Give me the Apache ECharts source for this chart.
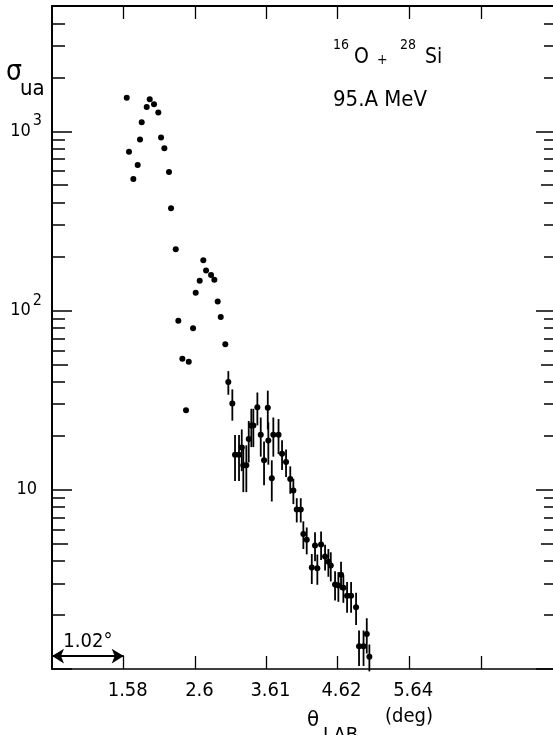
<!DOCTYPE html>
<html>
<head>
<meta charset="utf-8">
<script src="https://cdn.jsdelivr.net/npm/echarts@6.0.0/dist/echarts.min.js"></script>
<style>
html,body{margin:0;padding:0;background:#fff;}
#chart{width:553px;height:735px;}
</style>
</head>
<body>
<div id="chart"></div>
<script>
// ---- data (theta_LAB in deg, sigma in arbitrary units) ----
var xNoErr = [1.623,1.655,1.717,1.779,1.812,1.836,1.907,1.950,2.011,2.072,2.111,2.158,2.224,2.253,2.320,2.357,2.414,2.466,2.505,2.566,2.604,2.661,2.712,2.751,2.822,2.869,2.917,2.960,3.025];
var yNoErr = [1536,770,541,648,899,1123,1368,1510,1416,1273,922,803,592,372,219.5,87.6,53.9,27.8,51.8,79.7,125.6,146.6,190.5,167.4,157.8,148.5,112.3,91.9,64.9];

var xErr = [3.068,3.125,3.163,3.220,3.259,3.281,3.324,3.358,3.395,3.424,3.481,3.529,3.576,3.629,3.637,3.686,3.708,3.782,3.832,3.889,3.949,3.993,4.041,4.098,4.135,4.183,4.255,4.301,4.334,4.387,4.444,4.491,4.525,4.586,4.633,4.671,4.704,4.757,4.814,4.885,4.927,4.991,5.037,5.074];
var yErr = [39.9,30.3,15.7,15.7,17.2,13.7,13.7,19.2,22.8,22.8,28.9,20.3,14.6,28.7,18.8,11.6,20.3,20.3,15.9,14.3,11.5,9.92,7.77,7.77,5.67,5.26,3.68,4.89,3.65,4.95,4.24,3.97,3.78,2.96,2.92,3.36,2.84,2.56,2.56,2.21,1.34,1.34,1.57,1.17];
var eErr = [6,6,4.5,4.5,4.5,4,4,5,5.5,5.5,6,5,4,7,5,3,5,4.5,3,2.5,2,1.6,1.2,1.2,1.0,0.9,0.7,0.9,0.7,0.9,0.7,0.7,0.7,0.55,0.55,0.6,0.5,0.5,0.5,0.45,0.3,0.3,0.35,0.2];

// ---- axes ----
var xMin = 0.56, xMax = 7.70;
var xTickValues = [1.58, 2.60, 3.61, 4.62, 5.64, 6.66];
var xTickLabels = ['1.58', '2.6', '3.61', '4.62', '5.64', ''];
var yMin = 1, yMax = 5000;
var yMidTicks = [5, 50, 500];
var yMinorTicks = [2,3,4,6,7,8,9,20,30,40,60,70,80,90,200,300,400,600,700,800,900,2000,3000,4000];
var arrowY = 1.18;

var FONT = "'Liberation Sans Narrow','DejaVu Sans Condensed','Liberation Sans',sans-serif";

function pairs(xs, ys){ var o=[]; for(var i=0;i<xs.length;i++) o.push([xs[i], ys[i]]); return o; }
function triples(xs, ys, es){ var o=[]; for(var i=0;i<xs.length;i++) o.push([xs[i], ys[i], es[i]]); return o; }

function yAxisBase(pos, tickLen, customVals, showLabel){
  var ax = {
    type:'log', logBase:10, min:yMin, max:yMax, position:pos,
    axisLine:{show:true, lineStyle:{color:'#000', width:1.5}},
    axisTick:{show:true, inside:true, length:tickLen, lineStyle:{color:'#000', width:1.5}},
    axisLabel:{show:false},
    splitLine:{show:false}, minorTick:{show:false}, minorSplitLine:{show:false}
  };
  if (customVals) ax.axisTick.customValues = customVals;
  if (showLabel) {
    ax.axisLabel = {
      show:true, margin:10, color:'#000', fontFamily:FONT, fontSize:18,
      formatter:function(v){
        var r = Math.round(v);
        if (r === 1000) return '{b|10}{s|3}';
        if (r === 100) return '{b|10}{s|2}';
        if (r === 10) return '{p|10}';
        return '';
      },
      rich:{
        b:{fontFamily:FONT, fontSize:18, color:'#000'},
        p:{fontFamily:FONT, fontSize:18, color:'#000', padding:[0,5,0,0]},
        s:{fontFamily:FONT, fontSize:16, color:'#000', padding:[0,0,20,2]}
      }
    };
  }
  return ax;
}

var chart = echarts.init(document.getElementById('chart'), null, {renderer:'canvas'});

var option = {
  backgroundColor:'#fff',
  animation:false,
  grid:{left:52, right:-1, top:6, bottom:66, containLabel:false, outerBoundsMode:'none'},
  xAxis:[
    {
      type:'value', min:xMin, max:xMax, position:'bottom',
      axisLine:{show:true, onZero:false, lineStyle:{color:'#000', width:1.5}},
      axisTick:{show:true, inside:true, length:13, customValues:xTickValues, lineStyle:{color:'#000', width:1.3}},
      axisLabel:{show:true, customValues:xTickValues, margin:12, color:'#000', fontFamily:FONT, fontSize:20, padding:[0,0,0,8],
        formatter:function(v){ for(var i=0;i<xTickValues.length;i++){ if(Math.abs(v-xTickValues[i])<1e-6) return xTickLabels[i]; } return ''; }},
      splitLine:{show:false}
    },
    {
      type:'value', min:xMin, max:xMax, position:'top',
      axisLine:{show:true, onZero:false, lineStyle:{color:'#000', width:2}},
      axisTick:{show:true, inside:true, length:13, customValues:xTickValues, lineStyle:{color:'#000', width:1.3}},
      axisLabel:{show:false}, splitLine:{show:false}
    }
  ],
  yAxis:[
    yAxisBase('left', 20, null, true),
    yAxisBase('left', 16, yMidTicks, false),
    yAxisBase('left', 13, yMinorTicks, false),
    yAxisBase('right', 18, null, false),
    yAxisBase('right', 13, yMidTicks, false),
    yAxisBase('right', 10, yMinorTicks, false)
  ],
  series:[
    {
      type:'scatter', name:'points', xAxisIndex:0, yAxisIndex:0,
      data:pairs(xNoErr, yNoErr), symbol:'circle', symbolSize:6,
      itemStyle:{color:'#000', opacity:1},
      markLine:{
        silent:true, symbol:['arrow','arrow'], symbolSize:[11,12],
        lineStyle:{color:'#000', width:1.8, type:'solid', opacity:1},
        label:{show:true, position:'middle', formatter:'1.02°', color:'#000', fontFamily:FONT, fontSize:20, distance:4},
        data:[[{coord:[xMin, arrowY]},{coord:[xTickValues[0], arrowY]}]]
      }
    },
    {
      type:'custom', name:'errbars', xAxisIndex:0, yAxisIndex:0,
      data:triples(xErr, yErr, eErr),
      encode:{x:0, y:1},
      renderItem:function(params, api){
        var x = api.value(0), y = api.value(1), e = api.value(2);
        var top = api.coord([x, y + e]);
        var bot = api.coord([x, y - e]);
        var l = api.coord([x - 0.035, y]);
        var r = api.coord([x + 0.035, y]);
        return {type:'group', children:[
          {type:'line', shape:{x1:top[0], y1:top[1], x2:bot[0], y2:bot[1]}, style:{stroke:'#000', lineWidth:1.8}},
          {type:'line', shape:{x1:l[0], y1:l[1], x2:r[0], y2:r[1]}, style:{stroke:'#000', lineWidth:1.5}}
        ]};
      }
    },
    {
      type:'scatter', name:'points2', xAxisIndex:0, yAxisIndex:0,
      data:pairs(xErr, yErr), symbol:'circle', symbolSize:6,
      itemStyle:{color:'#000', opacity:1}
    }
  ],
  graphic:[
    {type:'text', x:6, y:73, style:{text:'σ', font:'28px '+FONT, fill:'#000', verticalAlign:'middle'}},
    {type:'text', x:20, y:89, style:{text:'ua', font:'22px '+FONT, fill:'#000', verticalAlign:'middle'}},
    {type:'text', x:333, y:45, style:{text:'16', font:'14px '+FONT, fill:'#000', verticalAlign:'middle'}},
    {type:'text', x:354, y:58, style:{text:'O', font:'21px '+FONT, fill:'#000', verticalAlign:'middle'}},
    {type:'text', x:377, y:60, style:{text:'+', font:'14px '+FONT, fill:'#000', verticalAlign:'middle'}},
    {type:'text', x:400, y:45, style:{text:'28', font:'14px '+FONT, fill:'#000', verticalAlign:'middle'}},
    {type:'text', x:425, y:58, style:{text:'Si', font:'21px '+FONT, fill:'#000', verticalAlign:'middle'}},
    {type:'text', x:333, y:100, style:{text:'95.A MeV', font:'22px '+FONT, fill:'#000', verticalAlign:'middle'}},
    {type:'text', x:307, y:720, style:{text:'θ', font:'22px '+FONT, fill:'#000', verticalAlign:'middle'}},
    {type:'text', x:323, y:736, style:{text:'LAB', font:'20px '+FONT, fill:'#000', verticalAlign:'middle'}},
    {type:'text', x:385, y:717, style:{text:'(deg)', font:'20px '+FONT, fill:'#000', verticalAlign:'middle'}}
  ]
};
chart.setOption(option);
</script>
</body>
</html>
